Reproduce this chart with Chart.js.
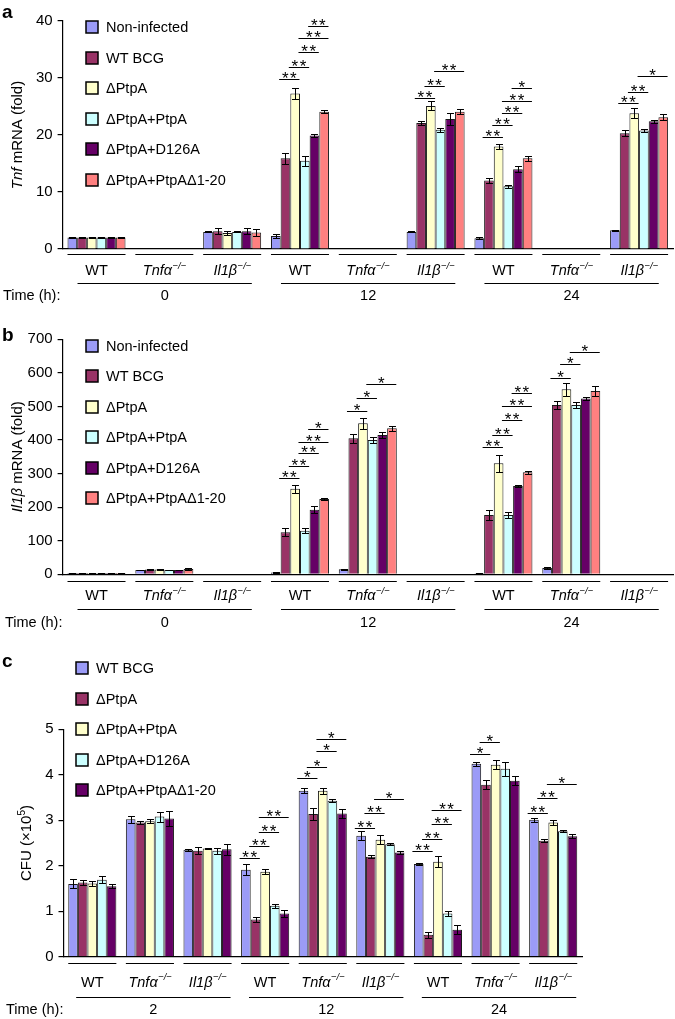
<!DOCTYPE html>
<html>
<head>
<meta charset="utf-8">
<script src="https://cdn.jsdelivr.net/npm/chart.js@4.4.1/dist/chart.umd.min.js"></script>
<style>
  html, body { margin: 0; padding: 0; background: #fff; }
  body { width: 675px; height: 1019px; position: relative; overflow: hidden; }
  canvas { position: absolute; left: 0; }
</style>
</head>
<body>
<canvas id="chartA" width="675" height="318" style="top:0px"></canvas>
<canvas id="chartB" width="675" height="336" style="top:318px"></canvas>
<canvas id="chartC" width="675" height="365" style="top:654px"></canvas>
<script>
// categories: genotype x time
const genotypes = ['WT', 'Tnfα', 'Il1β', 'WT', 'Tnfα', 'Il1β', 'WT', 'Tnfα', 'Il1β'];
const timesAB = ['0', '12', '24'];
const timesC = ['2', '12', '24'];

const strainsAB = ['Non-infected', 'WT BCG', 'ΔPtpA', 'ΔPtpA+PtpA', 'ΔPtpA+D126A', 'ΔPtpA+PtpAΔ1-20'];
const strainsC = ['WT BCG', 'ΔPtpA', 'ΔPtpA+PtpA', 'ΔPtpA+D126A', 'ΔPtpA+PtpAΔ1-20'];
const colorsAB = ['#9b9bf7', '#993366', '#ffffcc', '#ccffff', '#660066', '#ff8080'];
const colorsC = ['#9b9bf7', '#993366', '#ffffcc', '#ccffff', '#660066'];

// panel a - Tnf mRNA (fold)
const tnfNonInfected = [2.0, null, 3.0, 2.3, null, 3.0, 1.9, null, 3.3];
const tnfWtBcg       = [2.0, null, 3.1, 15.9, null, 22.1, 12.0, null, 20.3];
const tnfDPtpA       = [2.0, null, 2.8, 27.3, null, 25.1, 18.0, null, 23.8];
const tnfPtpA        = [2.0, null, 3.0, 15.5, null, 20.9, 11.0, null, 20.8];
const tnfD126A       = [2.0, null, 3.1, 19.9, null, 22.8, 14.0, null, 22.4];
const tnfDelta       = [2.0, null, 2.9, 24.1, null, 24.1, 15.9, null, 23.1];
const tnfErrNonInfected = [0.1, 0, 0.1, 0.3, 0, 0.1, 0.2, 0, 0.1];
const tnfErrWtBcg       = [0.1, 0, 0.5, 0.9, 0, 0.4, 0.4, 0, 0.5];
const tnfErrDPtpA       = [0.1, 0, 0.4, 0.9, 0, 0.8, 0.5, 0, 0.9];
const tnfErrPtpA        = [0.1, 0, 0.1, 0.9, 0, 0.4, 0.3, 0, 0.3];
const tnfErrD126A       = [0.1, 0, 0.5, 0.3, 0, 1.0, 0.5, 0, 0.3];
const tnfErrDelta       = [0.1, 0, 0.6, 0.2, 0, 0.4, 0.4, 0, 0.5];
const tnfTicks = [0, 10, 20, 30, 40];
// [group, from bar, to bar, height, mark]
const tnfBrackets = [
  [3, 1, 2, 29.8, '**'], [3, 2, 3, 32.0, '**'], [3, 3, 4, 34.5, '**'], [3, 3, 5, 37.0, '**'], [3, 4, 5, 39.2, '**'],
  [5, 1, 2, 26.5, '**'], [5, 2, 3, 28.6, '**'], [5, 3, 5, 31.3, '**'],
  [6, 1, 2, 19.7, '**'], [6, 2, 3, 21.8, '**'], [6, 3, 4, 23.8, '**'], [6, 3, 5, 26.0, '**'], [6, 4, 5, 28.2, '*'],
  [8, 1, 2, 25.6, '**'], [8, 2, 3, 27.6, '**'], [8, 3, 5, 30.4, '*']
];

// panel b - Il1b mRNA (fold)
const il1bNonInfected = [4, 13, null, 5, 15, null, 3, 19, null];
const il1bWtBcg       = [4, 14, null, 125, 405, null, 177, 504, null];
const il1bDPtpA       = [4, 14, null, 255, 450, null, 331, 551, null];
const il1bPtpA        = [4, 13, null, 130, 400, null, 177, 504, null];
const il1bD126A       = [4, 13, null, 192, 415, null, 263, 524, null];
const il1bDelta       = [4, 16, null, 224, 435, null, 304, 546, null];
const il1bErrNonInfected = [1, 1, 0, 1, 2, 0, 1, 2, 0];
const il1bErrWtBcg       = [1, 1, 0, 12, 13, 0, 15, 11, 0];
const il1bErrDPtpA       = [1, 1, 0, 12, 17, 0, 25, 20, 0];
const il1bErrPtpA        = [1, 1, 0, 8, 10, 0, 10, 8, 0];
const il1bErrD126A       = [1, 1, 0, 10, 10, 0, 3, 5, 0];
const il1bErrDelta       = [1, 2, 0, 4, 7, 0, 4, 15, 0];
const il1bTicks = [0, 100, 200, 300, 400, 500, 600, 700];
const il1bBrackets = [
  [3, 1, 2, 286, '**'], [3, 2, 3, 323, '**'], [3, 3, 4, 360, '**'], [3, 3, 5, 393, '**'], [3, 4, 5, 434, '*'],
  [4, 1, 2, 485, '*'], [4, 2, 3, 524, '*'], [4, 3, 5, 566, '*'],
  [6, 1, 2, 380, '**'], [6, 2, 3, 415, '**'], [6, 3, 4, 460, '**'], [6, 3, 5, 501, '**'], [6, 4, 5, 539, '**'],
  [7, 1, 2, 584, '*'], [7, 2, 3, 626, '*'], [7, 3, 5, 663, '*']
];

// panel c - CFU (x10^5)
const cfuWtBcg = [1.60, 3.02, 2.35, 1.91, 3.65, 2.66, 2.04, 4.24, 3.01];
const cfuDPtpA = [1.63, 2.95, 2.33, 0.82, 3.14, 2.20, 0.48, 3.78, 2.55];
const cfuPtpA  = [1.61, 2.98, 2.38, 1.87, 3.65, 2.57, 2.09, 4.22, 2.95];
const cfuD126A = [1.69, 3.08, 2.33, 1.12, 3.43, 2.47, 0.95, 4.13, 2.76];
const cfuDelta = [1.55, 3.04, 2.36, 0.95, 3.15, 2.29, 0.59, 3.87, 2.65];
const cfuErrWtBcg = [0.10, 0.08, 0.02, 0.12, 0.05, 0.10, 0.03, 0.05, 0.04];
const cfuErrDPtpA = [0.05, 0.03, 0.08, 0.05, 0.14, 0.03, 0.06, 0.10, 0.03];
const cfuErrPtpA  = [0.05, 0.04, 0.02, 0.06, 0.07, 0.10, 0.12, 0.10, 0.05];
const cfuErrD126A = [0.08, 0.11, 0.07, 0.04, 0.03, 0.02, 0.06, 0.15, 0.02];
const cfuErrDelta = [0.05, 0.17, 0.12, 0.07, 0.10, 0.04, 0.10, 0.10, 0.04];
const cfuTicks = [0, 1, 2, 3, 4, 5];
const cfuBrackets = [
  [3, 0, 1, 2.16, '**'], [3, 1, 2, 2.43, '**'], [3, 2, 3, 2.75, '**'], [3, 2, 4, 3.08, '**'],
  [4, 0, 1, 3.92, '*'], [4, 1, 2, 4.18, '*'], [4, 2, 3, 4.52, '*'], [4, 2, 4, 4.79, '*'],
  [5, 0, 1, 2.84, '**'], [5, 1, 2, 3.15, '**'], [5, 2, 4, 3.47, '*'],
  [6, 0, 1, 2.32, '**'], [6, 1, 2, 2.59, '**'], [6, 2, 3, 2.91, '**'], [6, 2, 4, 3.23, '**'],
  [7, 0, 1, 4.46, '*'], [7, 1, 2, 4.71, '*'],
  [8, 0, 1, 3.17, '**'], [8, 1, 2, 3.48, '**'], [8, 2, 4, 3.80, '*']
];

const FONT = '"Liberation Sans", Arial, Helvetica, sans-serif';

function hline(ctx, x1, x2, y) {
  y = Math.round(y) + 0.5;
  ctx.beginPath();
  ctx.moveTo(x1, y);
  ctx.lineTo(x2, y);
  ctx.stroke();
}

function drawGenotype(ctx, name, cx, y) {
  ctx.textBaseline = 'middle';
  ctx.textAlign = 'left';
  if (name === 'WT') {
    ctx.font = '14.5px ' + FONT;
    ctx.textAlign = 'center';
    ctx.fillText(name, cx, y);
    return;
  }
  const sup = '\u2212/\u2212';
  ctx.font = 'italic 14.5px ' + FONT;
  const w1 = ctx.measureText(name).width;
  ctx.font = 'italic 9.5px ' + FONT;
  const w2 = ctx.measureText(sup).width;
  const x0 = cx - (w1 + w2) / 2;
  ctx.font = 'italic 14.5px ' + FONT;
  ctx.fillText(name, x0, y);
  ctx.font = 'italic 9.5px ' + FONT;
  ctx.fillText(sup, x0 + w1 + 0.5, y - 5);
}

// text made of runs: [text, 'n' | 'i' | 'sup']
function drawRuns(ctx, runs, x, y) {
  const fontOf = s => s === 'i' ? 'italic 15px ' + FONT : s === 'sup' ? '10px ' + FONT : '15px ' + FONT;
  let total = 0;
  runs.forEach(([t, s]) => { ctx.font = fontOf(s); total += ctx.measureText(t).width; });
  let cx = x - total / 2;
  ctx.textAlign = 'left';
  ctx.textBaseline = 'alphabetic';
  runs.forEach(([t, s]) => {
    ctx.font = fontOf(s);
    ctx.fillText(t, cx, s === 'sup' ? y - 6 : y);
    cx += ctx.measureText(t).width;
  });
}

function makePanel(id, cfg) {
  const datasets = cfg.series.map((values, i) => ({
    label: cfg.labels[i],
    data: values,
    errors: cfg.errors[i],
    backgroundColor: cfg.colors[i],
    borderColor: '#1a1a1a',
    borderWidth: 1,
    categoryPercentage: cfg.catPct,
    barPercentage: 1
  }));

  const decor = {
    id: 'decor',
    afterDraw(chart) {
      const ctx = chart.ctx;
      const xs = chart.scales.x;
      const ys = chart.scales.y;
      const area = chart.chartArea;
      const w = xs.getPixelForValue(1) - xs.getPixelForValue(0);
      ctx.save();
      ctx.strokeStyle = '#000';
      ctx.fillStyle = '#000';
      ctx.lineWidth = 1;

      // error bars
      chart.data.datasets.forEach((ds, i) => {
        const meta = chart.getDatasetMeta(i);
        ds.data.forEach((v, j) => {
          if (v == null || !ds.errors[j]) return;
          const bar = meta.data[j];
          const x = Math.round(bar.x) + 0.5;
          const yTop = Math.round(ys.getPixelForValue(v + ds.errors[j])) + 0.5;
          const yBot = Math.round(ys.getPixelForValue(Math.max(0, v - ds.errors[j]))) + 0.5;
          const cap = bar.width * 0.36;
          ctx.beginPath();
          ctx.moveTo(x, yTop); ctx.lineTo(x, yBot);
          ctx.moveTo(x - cap, yTop); ctx.lineTo(x + cap, yTop);
          ctx.moveTo(x - cap, yBot); ctx.lineTo(x + cap, yBot);
          ctx.stroke();
        });
      });

      // significance brackets
      ctx.font = '17px ' + FONT;
      ctx.textAlign = 'center';
      ctx.textBaseline = 'alphabetic';
      ctx.letterSpacing = '1.5px';
      cfg.brackets.forEach(([g, a, b, val, mark]) => {
        const ba = chart.getDatasetMeta(a).data[g];
        const bb = chart.getDatasetMeta(b).data[g];
        const x1 = ba.x - ba.width / 2 - 1.5;
        const x2 = bb.x + bb.width / 2 - 0.5;
        const y = ys.getPixelForValue(val);
        hline(ctx, x1, x2, y);
        ctx.fillText(mark, (x1 + x2) / 2 + 0.75, Math.round(y) + 5);
      });
      ctx.letterSpacing = '0px';

      // legend
      ctx.textAlign = 'left';
      ctx.textBaseline = 'middle';
      ctx.font = '14.5px ' + FONT;
      chart.data.datasets.forEach((ds, i) => {
        const y = Math.round(cfg.legendY + i * cfg.legendStep);
        ctx.fillStyle = ds.backgroundColor;
        ctx.fillRect(cfg.legendX, y - 6, 12, 12);
        ctx.lineWidth = 1.5;
        ctx.strokeRect(cfg.legendX, y - 6, 12, 12);
        ctx.fillStyle = '#000';
        ctx.fillText(ds.label, cfg.legendX + 20, y + 1);
      });
      ctx.lineWidth = 1.2;

      // genotype rows
      const half = w * cfg.catPct / 2;
      genotypes.forEach((name, g) => {
        const cx = xs.getPixelForValue(g);
        hline(ctx, cx - half, cx + half, area.bottom + cfg.rowLine);
        drawGenotype(ctx, name, cx, area.bottom + cfg.rowLabel);
      });

      // time rows
      ctx.font = '14.5px ' + FONT;
      cfg.times.forEach((t, k) => {
        const x1 = xs.getPixelForValue(3 * k) + cfg.timeL * w;
        const x2 = xs.getPixelForValue(3 * k + 2) + cfg.timeR * w;
        hline(ctx, x1, x2, area.bottom + cfg.timeLine);
        ctx.textAlign = 'center';
        ctx.textBaseline = 'middle';
        ctx.fillText(t, (x1 + x2) / 2, area.bottom + cfg.timeLabel);
      });
      ctx.textAlign = 'left';
      ctx.fillText('Time (h):', cfg.timeX, area.bottom + cfg.timeLabel);

      // y title
      ctx.save();
      ctx.translate(cfg.titleX, (area.top + area.bottom) / 2);
      ctx.rotate(-Math.PI / 2);
      drawRuns(ctx, cfg.title, 0, 0);
      ctx.restore();

      // panel letter
      ctx.font = 'bold 19px ' + FONT;
      ctx.textAlign = 'left';
      ctx.textBaseline = 'alphabetic';
      ctx.fillText(cfg.letter, 2, cfg.letterY);
      ctx.restore();
    }
  };

  return new Chart(document.getElementById(id), {
    type: 'bar',
    data: { labels: genotypes, datasets },
    options: {
      responsive: false,
      animation: false,
      devicePixelRatio: 1,
      layout: { padding: { top: cfg.top, bottom: cfg.bottom, left: 0, right: cfg.right } },
      plugins: { legend: { display: false }, tooltip: { enabled: false } },
      scales: {
        x: {
          grid: { display: false, drawTicks: false },
          ticks: { display: false },
          border: { color: '#000', width: 1.2 }
        },
        y: {
          min: cfg.ticks[0],
          max: cfg.ticks[cfg.ticks.length - 1],
          afterBuildTicks: s => { s.ticks = cfg.ticks.map(v => ({ value: v })); },
          afterFit: s => { s.width = cfg.left; },
          ticks: { color: '#000', padding: 5, font: { family: FONT, size: 15 } },
          grid: { drawOnChartArea: false, color: '#000', tickLength: 5, lineWidth: 1.2 },
          border: { color: '#000', width: 1.2 }
        }
      }
    },
    plugins: [decor]
  });
}

makePanel('chartA', {
  labels: strainsAB, colors: colorsAB,
  series: [tnfNonInfected, tnfWtBcg, tnfDPtpA, tnfPtpA, tnfD126A, tnfDelta],
  errors: [tnfErrNonInfected, tnfErrWtBcg, tnfErrDPtpA, tnfErrPtpA, tnfErrD126A, tnfErrDelta],
  ticks: tnfTicks, brackets: tnfBrackets, times: timesAB,
  catPct: 0.855, top: 21, bottom: 69, left: 62.6, right: 2,
  legendX: 86, legendY: 27, legendStep: 30.6,
  rowLine: 5, rowLabel: 22, timeLine: 34, timeLabel: 47,
  timeL: -0.28, timeR: 0.29, timeX: 3,
  title: [['Tnf', 'i'], [' mRNA (fold)', 'n']], titleX: 22,
  letter: 'a', letterY: 18
});

makePanel('chartB', {
  labels: strainsAB, colors: colorsAB,
  series: [il1bNonInfected, il1bWtBcg, il1bDPtpA, il1bPtpA, il1bD126A, il1bDelta],
  errors: [il1bErrNonInfected, il1bErrWtBcg, il1bErrDPtpA, il1bErrPtpA, il1bErrD126A, il1bErrDelta],
  ticks: il1bTicks, brackets: il1bBrackets, times: timesAB,
  catPct: 0.855, top: 21.3, bottom: 79.7, left: 62.6, right: 2,
  legendX: 86, legendY: 28, legendStep: 30.4,
  rowLine: 6.5, rowLabel: 22, timeLine: 34.5, timeLabel: 49,
  timeL: -0.28, timeR: 0.29, timeX: 5,
  title: [['Il1β', 'i'], [' mRNA (fold)', 'n']], titleX: 22,
  letter: 'b', letterY: 23
});

makePanel('chartC', {
  labels: strainsC, colors: colorsC,
  series: [cfuWtBcg, cfuDPtpA, cfuPtpA, cfuD126A, cfuDelta],
  errors: [cfuErrWtBcg, cfuErrDPtpA, cfuErrPtpA, cfuErrD126A, cfuErrDelta],
  ticks: cfuTicks, brackets: cfuBrackets, times: timesC,
  catPct: 0.835, top: 75.3, bottom: 62.3, left: 63.5, right: 93,
  legendX: 76, legendY: 14, legendStep: 30.5,
  rowLine: 6.5, rowLabel: 26, timeLine: 40.5, timeLabel: 53.5,
  timeL: -0.28, timeR: 0.4, timeX: 6,
  title: [['CFU (×10', 'n'], ['5', 'sup'], [')', 'n']], titleX: 31,
  letter: 'c', letterY: 12.5
});
</script>
</body>
</html>
